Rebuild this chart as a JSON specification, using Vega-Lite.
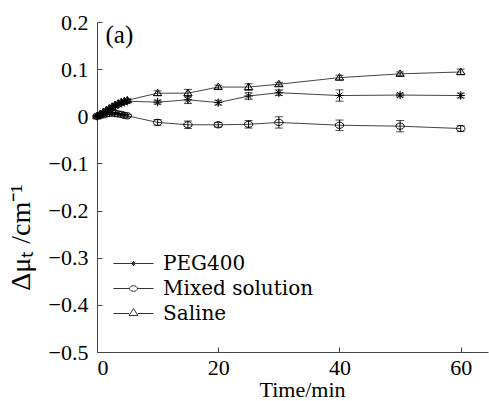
{
  "$schema": "https://vega.github.io/schema/vega-lite/v6.json",
  "width": 391,
  "height": 330,
  "autosize": {"type": "none"},
  "padding": {"left": 97, "top": 22, "right": 1, "bottom": 49},
  "background": "white",
  "config": {
    "view": {"stroke": null},
    "axis": {"grid": false, "domainColor": "#444", "tickColor": "#444", "labelColor": "black", "titleColor": "black", "labelFont": "Liberation Serif", "titleFont": "Liberation Serif", "labelFontSize": 22, "titleFontSize": 22, "titleFontWeight": "normal", "tickSize": -5}
  },
  "data": {"values": [
    {"series": "PEG400", "t": 0, "v": 0, "err": 0.002},
    {"series": "PEG400", "t": 0.5, "v": 0.003, "err": 0.002},
    {"series": "PEG400", "t": 1, "v": 0.007, "err": 0.002},
    {"series": "PEG400", "t": 1.5, "v": 0.011, "err": 0.002},
    {"series": "PEG400", "t": 2, "v": 0.015, "err": 0.002},
    {"series": "PEG400", "t": 2.5, "v": 0.019, "err": 0.002},
    {"series": "PEG400", "t": 3, "v": 0.022, "err": 0.002},
    {"series": "PEG400", "t": 3.5, "v": 0.025, "err": 0.002},
    {"series": "PEG400", "t": 4, "v": 0.028, "err": 0.002},
    {"series": "PEG400", "t": 4.5, "v": 0.030, "err": 0.002},
    {"series": "PEG400", "t": 5, "v": 0.032, "err": 0.003},
    {"series": "PEG400", "t": 10, "v": 0.030, "err": 0.004},
    {"series": "PEG400", "t": 15, "v": 0.035, "err": 0.008},
    {"series": "PEG400", "t": 20, "v": 0.029, "err": 0.005},
    {"series": "PEG400", "t": 25, "v": 0.043, "err": 0.007},
    {"series": "PEG400", "t": 30, "v": 0.050, "err": 0.006},
    {"series": "PEG400", "t": 40, "v": 0.044, "err": 0.012},
    {"series": "PEG400", "t": 50, "v": 0.045, "err": 0.004},
    {"series": "PEG400", "t": 60, "v": 0.044, "err": 0.005},
    {"series": "Mixed solution", "t": 0, "v": 0, "err": 0.002},
    {"series": "Mixed solution", "t": 0.5, "v": 0.002, "err": 0.002},
    {"series": "Mixed solution", "t": 1, "v": 0.003, "err": 0.002},
    {"series": "Mixed solution", "t": 1.5, "v": 0.005, "err": 0.002},
    {"series": "Mixed solution", "t": 2, "v": 0.006, "err": 0.002},
    {"series": "Mixed solution", "t": 2.5, "v": 0.007, "err": 0.002},
    {"series": "Mixed solution", "t": 3, "v": 0.006, "err": 0.002},
    {"series": "Mixed solution", "t": 3.5, "v": 0.005, "err": 0.002},
    {"series": "Mixed solution", "t": 4, "v": 0.004, "err": 0.002},
    {"series": "Mixed solution", "t": 4.5, "v": 0.002, "err": 0.002},
    {"series": "Mixed solution", "t": 5, "v": 0.001, "err": 0.003},
    {"series": "Mixed solution", "t": 10, "v": -0.013, "err": 0.006},
    {"series": "Mixed solution", "t": 15, "v": -0.018, "err": 0.008},
    {"series": "Mixed solution", "t": 20, "v": -0.018, "err": 0.005},
    {"series": "Mixed solution", "t": 25, "v": -0.017, "err": 0.008},
    {"series": "Mixed solution", "t": 30, "v": -0.013, "err": 0.012},
    {"series": "Mixed solution", "t": 40, "v": -0.019, "err": 0.011},
    {"series": "Mixed solution", "t": 50, "v": -0.021, "err": 0.012},
    {"series": "Mixed solution", "t": 60, "v": -0.026, "err": 0.006},
    {"series": "Saline", "t": 0, "v": 0, "err": 0.002},
    {"series": "Saline", "t": 0.5, "v": 0.004, "err": 0.002},
    {"series": "Saline", "t": 1, "v": 0.008, "err": 0.002},
    {"series": "Saline", "t": 1.5, "v": 0.012, "err": 0.002},
    {"series": "Saline", "t": 2, "v": 0.016, "err": 0.002},
    {"series": "Saline", "t": 2.5, "v": 0.020, "err": 0.002},
    {"series": "Saline", "t": 3, "v": 0.024, "err": 0.002},
    {"series": "Saline", "t": 3.5, "v": 0.027, "err": 0.002},
    {"series": "Saline", "t": 4, "v": 0.030, "err": 0.002},
    {"series": "Saline", "t": 4.5, "v": 0.032, "err": 0.002},
    {"series": "Saline", "t": 5, "v": 0.034, "err": 0.003},
    {"series": "Saline", "t": 10, "v": 0.049, "err": 0.005},
    {"series": "Saline", "t": 15, "v": 0.049, "err": 0.008},
    {"series": "Saline", "t": 20, "v": 0.062, "err": 0.004},
    {"series": "Saline", "t": 25, "v": 0.062, "err": 0.007},
    {"series": "Saline", "t": 30, "v": 0.068, "err": 0.004},
    {"series": "Saline", "t": 40, "v": 0.082, "err": 0.005},
    {"series": "Saline", "t": 50, "v": 0.090, "err": 0.004},
    {"series": "Saline", "t": 60, "v": 0.094, "err": 0.006}
  ]},
  "encoding": {
    "x": {"field": "t", "type": "quantitative", "scale": {"domain": [0, 64.5], "nice": false, "zero": false},
      "axis": {"title": "Time/min", "values": [0, 20, 40, 60], "labelPadding": 10, "titleX": 205, "titlePadding": 1}},
    "y": {"field": "v", "type": "quantitative", "scale": {"domain": [-0.5, 0.2], "nice": false, "zero": false},
      "axis": {"title": "Δμₜ /cm⁻¹", "titleFontSize": 28, "values": [-0.5, -0.4, -0.3, -0.2, -0.1, 0, 0.1, 0.2], "labelExpr": "datum.value == 0 ? '0' : format(datum.value, '.1f')", "labelPadding": 14, "titleAnchor": "middle", "titleY": 215, "titleX": -68, "titleBaseline": "alphabetic"}}
  },
  "layer": [
    {"mark": {"type": "line", "stroke": "#444", "strokeWidth": 1},
     "encoding": {"detail": {"field": "series"}, "order": {"field": "t"}}},
    {"mark": {"type": "errorbar", "ticks": {"size": 8, "thickness": 1, "color": "black"}, "rule": {"color": "black", "strokeWidth": 1}},
     "encoding": {"yError": {"field": "err"}, "detail": {"field": "series"}}},
    {"mark": {"type": "point", "filled": false, "stroke": "black", "strokeWidth": 1, "size": 70, "opacity": 1},
     "encoding": {"shape": {"field": "series", "type": "nominal", "legend": null,
       "scale": {"domain": ["PEG400", "Mixed solution", "Saline"], "range": [
         "M-1,0H1M0,-1V1M-0.7,-0.7L0.7,0.7M-0.7,0.7L0.7,-0.7",
         "M-1,0A1,0.75 0 1,0 1,0A1,0.75 0 1,0 -1,0",
         "M-1,0.6L0,-0.95L1,0.6Z"]}}}},
    {"mark": {"type": "point", "filled": false, "opacity": 0, "size": 70},
     "encoding": {"shape": {"field": "series", "type": "nominal",
       "scale": {"domain": ["PEG400", "Mixed solution", "Saline"], "range": [
         "M-2,0H2M0,-0.25V0.25M-0.18,-0.18L0.18,0.18M-0.18,0.18L0.18,-0.18",
         "M-2,0H-0.4M0.4,0H2M-0.4,0A0.4,0.28 0 1,0 0.4,0A0.4,0.28 0 1,0 -0.4,0",
         "M-2,0H-0.44M0.44,0H2M-0.44,0.2L0,-0.5L0.44,0.2Z"]},
       "legend": {"title": null, "orient": "none", "legendX": 26, "legendY": 231, "padding": 0, "symbolSize": 400, "symbolOpacity": 1, "symbolStrokeColor": "#333", "symbolStrokeWidth": 1, "symbolFillColor": "transparent", "labelFont": "DejaVu Serif", "labelFontSize": 20, "labelColor": "black", "labelOffset": 19, "rowPadding": 4}}}},
    {"data": {"values": [{"t": 1.4, "v": 0.172, "label": "(a)"}]},
     "mark": {"type": "text", "align": "left", "baseline": "middle", "font": "Liberation Serif", "fontSize": 25, "color": "black"},
     "encoding": {"text": {"field": "label"}}}
  ],
  "resolve": {"scale": {"shape": "independent"}}
}
